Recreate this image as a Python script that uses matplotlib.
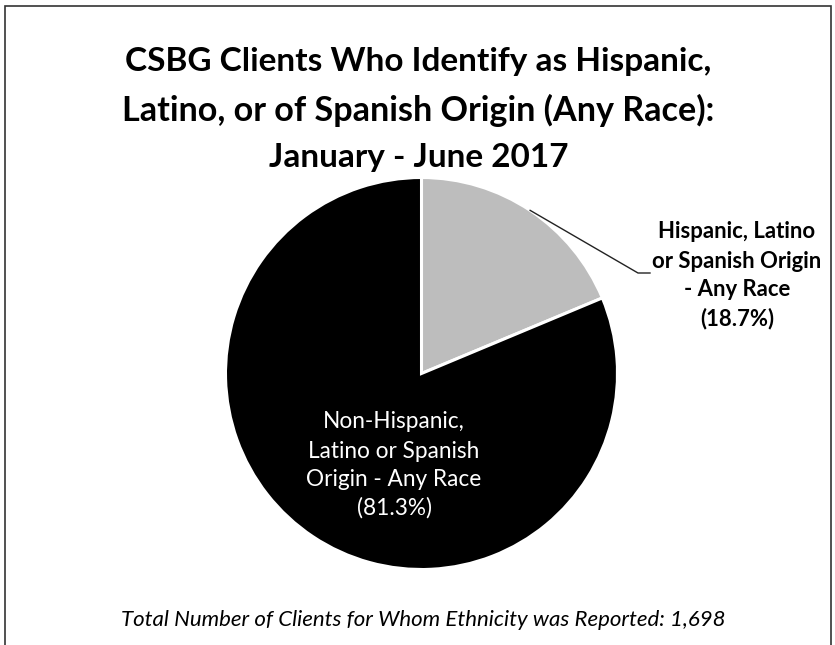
import matplotlib
matplotlib.use("Agg")
import matplotlib.pyplot as plt
from matplotlib.patches import Rectangle
import numpy as np

# ---- data ----
categories = ["Hispanic, Latino or Spanish Origin - Any Race",
              "Non-Hispanic, Latino or Spanish Origin - Any Race"]
shares = [18.7, 81.3]
outer_label_lines = ["Hispanic, Latino", "or Spanish Origin", "- Any Race", "(18.7%)"]
inner_label_lines = ["Non-Hispanic,", "Latino or Spanish", "Origin - Any Race", "(81.3%)"]
title_lines = ["CSBG Clients Who Identify as Hispanic,",
               "Latino, or of Spanish Origin (Any Race):",
               "January - June 2017"]
footer = "Total Number of Clients for Whom Ethnicity was Reported: 1,698"
colors = ["#bdbdbd", "#000000"]

W, H = 835, 645
fig = plt.figure(figsize=(W / 100, H / 100), dpi=100)
fig.patch.set_facecolor("white")
FONT = ["Lato", "DejaVu Sans"]

def px(x, y):
    return x / W, 1 - y / H

# pie axes: centre (421.5, 373.5), radius 196 px
cx, cy, r = 421.5, 373.5, 196
ax = fig.add_axes([(cx - r) / W, (H - cy - r) / H, 2 * r / W, 2 * r / H])
wedges, _ = ax.pie(shares, colors=colors, startangle=90, counterclock=False,
                   radius=1.0, wedgeprops=dict(edgecolor="white", linewidth=2.2))
ax.set_xlim(-1, 1)
ax.set_ylim(-1, 1)
ax.set_aspect("equal")
ax.axis("off")

# leader line from middle of the Hispanic wedge
mid = np.deg2rad(90 - 360 * shares[0] / sum(shares) / 2)
p0 = (1.0 * np.cos(mid), 1.0 * np.sin(mid))
p1 = ((638 - cx) / r, (cy - 273) / r)
p2 = ((650 - cx) / r, (cy - 273) / r)
ax.plot([p0[0], p1[0], p2[0]], [p0[1], p1[1], p2[1]], color="#222222",
        lw=1.0, clip_on=False)

renderer = fig.canvas.get_renderer()

def fit_text(s, x, y, width_px, size0, **kw):
    t = fig.text(*px(x, y), s, fontsize=size0, ha="center", va="center",
                 family=FONT, **kw)
    w = t.get_window_extent(renderer).width
    t.set_fontsize(size0 * width_px / w)
    return t

# title
fit_text(title_lines[0], 418.5, 62, 587, 24, fontweight="bold", color="black")
fit_text(title_lines[1], 418, 110, 592, 24, fontweight="bold", color="black")
t3 = fig.text(*px(419, 157), title_lines[2], ha="center", va="center", family=FONT,
              fontweight="bold", color="black", fontsize=24)
t3.set_fontsize(fig.texts[0].get_fontsize())

# outside label
ys_out = [232, 261, 290, 319]
size_out = None
for i, (s, yy) in enumerate(zip(outer_label_lines, ys_out)):
    if i == 1:
        continue
fit_ref = fit_text(outer_label_lines[1], 737, ys_out[1], 171, 14, fontweight="bold")
size_out = fit_ref.get_fontsize()
for i, (s, yy) in enumerate(zip(outer_label_lines, ys_out)):
    if i == 1:
        continue
    fig.text(*px(737, yy), s, ha="center", va="center", family=FONT,
             fontweight="bold", fontsize=size_out, color="black")

# inside label
ys_in = [421, 451, 480, 508]
ref_in = fit_text(inner_label_lines[1], 394, ys_in[1], 172, 14, color="white")
size_in = ref_in.get_fontsize()
for i, (s, yy) in enumerate(zip(inner_label_lines, ys_in)):
    if i == 1:
        continue
    fig.text(*px(394, yy), s, ha="center", va="center", family=FONT,
             fontsize=size_in, color="white")

# footer
fit_text(footer, 423.5, 620, 607, 16, style="italic", color="black")

# frame
fig.patches.append(Rectangle(px(5, 700), (831 - 5) / W, (700 - 6) / H,
                             transform=fig.transFigure, fill=False,
                             edgecolor="#333333", linewidth=1.2))

fig.savefig("out.png", dpi=100, facecolor="white")
